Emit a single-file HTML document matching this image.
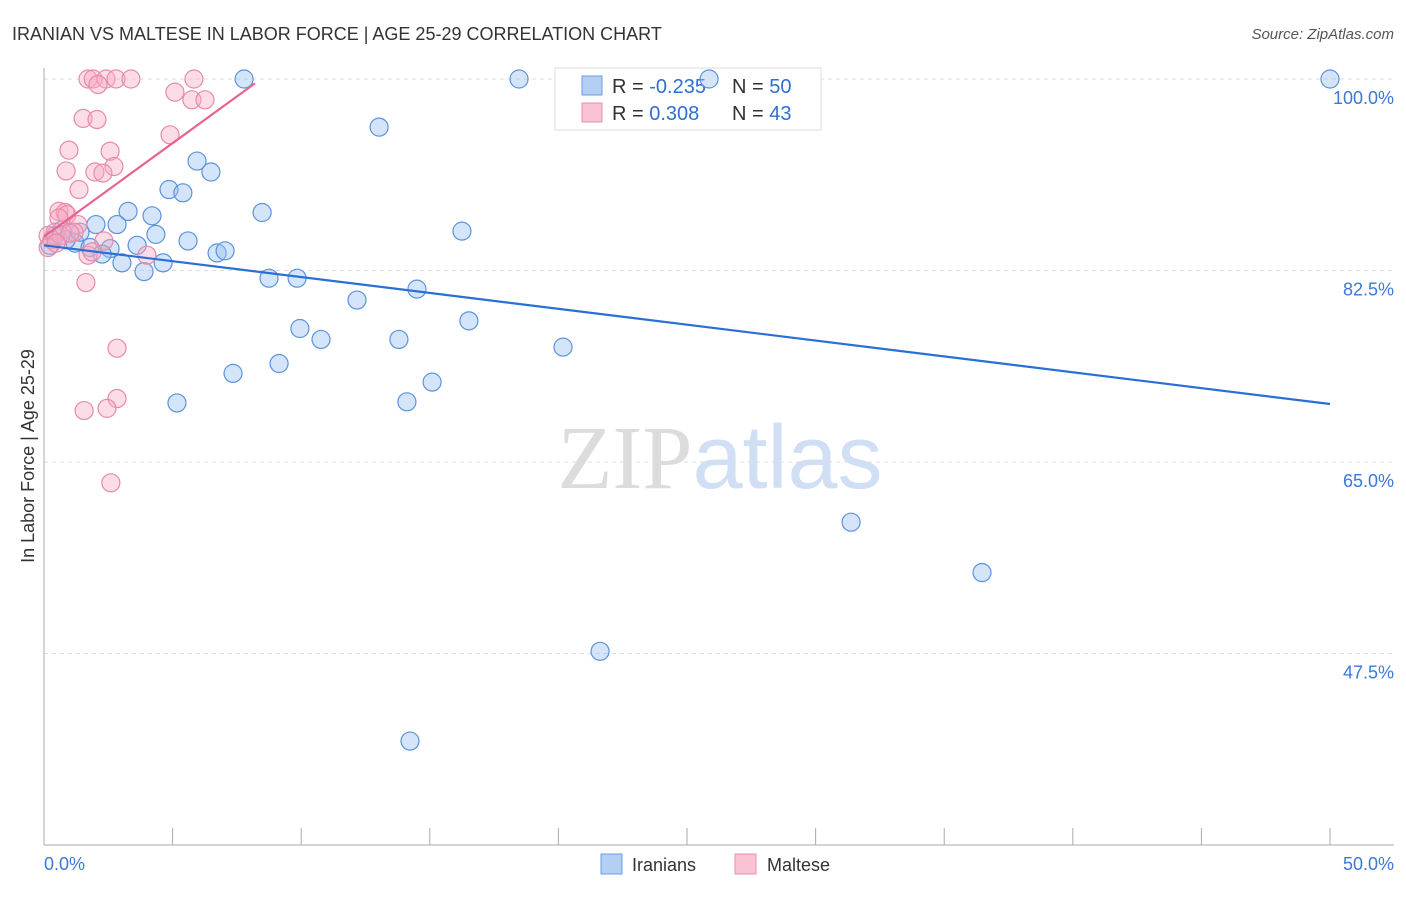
<!DOCTYPE html>
<html><head><meta charset="utf-8"><style>
body{margin:0;background:#fff;font-family:"Liberation Sans",sans-serif;}
svg text{font-family:"Liberation Sans",sans-serif;}
</style></head><body>
<svg id="chart" width="1406" height="892" viewBox="0 0 1406 892" xmlns="http://www.w3.org/2000/svg">
<text x="12" y="40" font-size="18" fill="#333">IRANIAN VS MALTESE IN LABOR FORCE | AGE 25-29 CORRELATION CHART</text>
<text x="1394" y="39" font-size="15" fill="#555" text-anchor="end" font-style="italic">Source: ZipAtlas.com</text>
<text x="720" y="488" font-size="90" text-anchor="middle"><tspan fill="#dcdcdc" font-family="Liberation Serif">ZIP</tspan><tspan fill="#d0dff4">atlas</tspan></text>
<g id="grid"></g>
<g id="axes"></g>
<g>
<rect x="555" y="68" width="266" height="62" fill="#fff" stroke="#ddd"/>
<rect x="582" y="76" width="20" height="19" fill="#b3cff3" stroke="#6b9be0"/>
<rect x="582" y="103" width="20" height="19" fill="#f9c3d3" stroke="#ec8fab"/>
<text x="612" y="93" font-size="20" fill="#333">R = <tspan fill="#2f6fd0">-0.235</tspan></text>
<text x="732" y="93" font-size="20" fill="#333">N = <tspan fill="#2f6fd0">50</tspan></text>
<text x="612" y="120" font-size="20" fill="#333">R = <tspan fill="#2f6fd0"> 0.308</tspan></text>
<text x="732" y="120" font-size="20" fill="#333">N = <tspan fill="#2f6fd0">43</tspan></text>
</g>
<g id="points"></g>
<g id="trends"></g>
<text transform="translate(34,456) rotate(-90)" font-size="18" fill="#333" text-anchor="middle">In Labor Force | Age 25-29</text>
<g>
<rect x="601" y="854" width="21" height="20" fill="#b3cff3" stroke="#6b9be0"/>
<text x="632" y="871" font-size="18" fill="#333">Iranians</text>
<rect x="735" y="854" width="21" height="20" fill="#f9c3d3" stroke="#ec8fab"/>
<text x="767" y="871" font-size="18" fill="#333">Maltese</text>
</g>
</svg>
<script>
const yTicks=[100,82.5,65,47.5];
const yTickLabels=["100.0%","82.5%","65.0%","47.5%"];
const xTicks=[0,5,10,15,20,25,30,35,40,45,50];
const blueX=[7.78,18.47,25.86,50,13.03,5.95,6.49,4.86,5.40,8.48,3.27,4.20,2.02,2.84,16.25,4.35,5.60,0.70,1.21,1.79,2.57,2.26,3.62,6.73,7.04,3.03,4.63,3.89,8.75,9.84,14.50,12.17,16.52,9.95,10.77,13.80,20.18,9.14,7.35,15.09,5.17,14.11,31.38,36.47,21.62,14.23,0.23,0.43,0.86,1.40];
const blueY=[100,100,100,100,95.6,92.5,91.5,89.9,89.6,87.8,87.9,87.5,86.7,86.7,86.1,85.8,85.2,86.2,85.0,84.6,84.5,84.0,84.8,84.1,84.3,83.2,83.2,82.4,81.8,81.8,80.8,79.8,77.9,77.2,76.2,76.2,75.5,74.0,73.1,72.3,70.4,70.5,59.5,54.9,47.7,39.5,84.8,85.7,85.3,86.0];
const pinkX=[1.71,1.91,2.41,2.80,3.38,5.83,2.10,5.09,5.75,6.26,1.52,2.06,4.90,0.97,2.57,2.72,0.86,1.98,2.29,1.36,0.58,0.82,0.89,0.58,1.32,1.17,0.43,0.16,0.31,0.16,4.00,1.71,1.63,2.84,2.84,1.56,2.45,2.60,0.66,1.01,2.33,0.47,1.87];
const pinkY=[100,100,100,100,100,100,99.5,98.8,98.1,98.1,96.4,96.3,94.9,93.5,93.4,92.0,91.6,91.5,91.4,89.9,87.9,87.8,87.6,87.3,86.7,86.0,86.0,85.7,85.3,84.6,83.9,83.9,81.4,75.4,70.8,69.7,69.9,63.1,85.7,85.9,85.2,85.0,84.2];
const blueTrend=[[0,84.8],[50,70.3]];
const pinkTrend=[[0,85.6],[8.2,99.6]];
const NS="http://www.w3.org/2000/svg";
const X=v=>44+v*(1286/50);
const Y=v=>79+(100-v)*10.943;
function mk(tag,attrs,parent){const e=document.createElementNS(NS,tag);for(const k in attrs)e.setAttribute(k,attrs[k]);parent.appendChild(e);return e;}
const grid=document.getElementById('grid'),axes=document.getElementById('axes'),pts=document.getElementById('points'),tr=document.getElementById('trends');
yTicks.forEach((t,i)=>{
  const l=mk('line',{x1:44,x2:1394,y1:Y(t),y2:Y(t),stroke:'#ddd','stroke-dasharray':'4,4'},grid);
  
  
  const tx=mk('text',{x:1394,y:Y(t)+25,'font-size':18,fill:'#3b78d8','text-anchor':'end'},axes);
  tx.textContent=yTickLabels[i];
  
  
});
const ax=mk('line',{x1:44,x2:44,y1:68,y2:845,stroke:'#aaa'},axes);


const bx=mk('line',{x1:44,x2:1394,y1:845,y2:845,stroke:'#aaa'},axes);


xTicks.forEach(t=>{
  const l=mk('line',{x1:X(t),x2:X(t),y1:828,y2:845,stroke:'#aaa'},axes);
  
  
});
[[0,"0.0%","start",44],[50,"50.0%","end",1394]].forEach(a=>{
  const tx=mk('text',{x:a[3],y:870,'font-size':18,fill:'#3b78d8','text-anchor':a[2]},axes);
  tx.textContent=a[1];
  
  
});
blueX.forEach((v,i)=>{
  const c=mk('circle',{cx:X(v),cy:Y(blueY[i]),r:9,fill:'rgba(150,190,240,0.4)',stroke:'#5b93dc','stroke-width':1.2},pts);
  
  
});
pinkX.forEach((v,i)=>{
  const c=mk('circle',{cx:X(v),cy:Y(pinkY[i]),r:9,fill:'rgba(247,170,195,0.4)',stroke:'#e88aa8','stroke-width':1.2},pts);
  
  
});
const b=mk('line',{x1:X(blueTrend[0][0]),y1:Y(blueTrend[0][1]),x2:X(blueTrend[1][0]),y2:Y(blueTrend[1][1]),stroke:'#2a6fd6','stroke-width':2.2},tr);


const p=mk('line',{x1:X(pinkTrend[0][0]),y1:Y(pinkTrend[0][1]),x2:X(pinkTrend[1][0]),y2:Y(pinkTrend[1][1]),stroke:'#e8628f','stroke-width':2.2},tr);


</script>
</body></html>
